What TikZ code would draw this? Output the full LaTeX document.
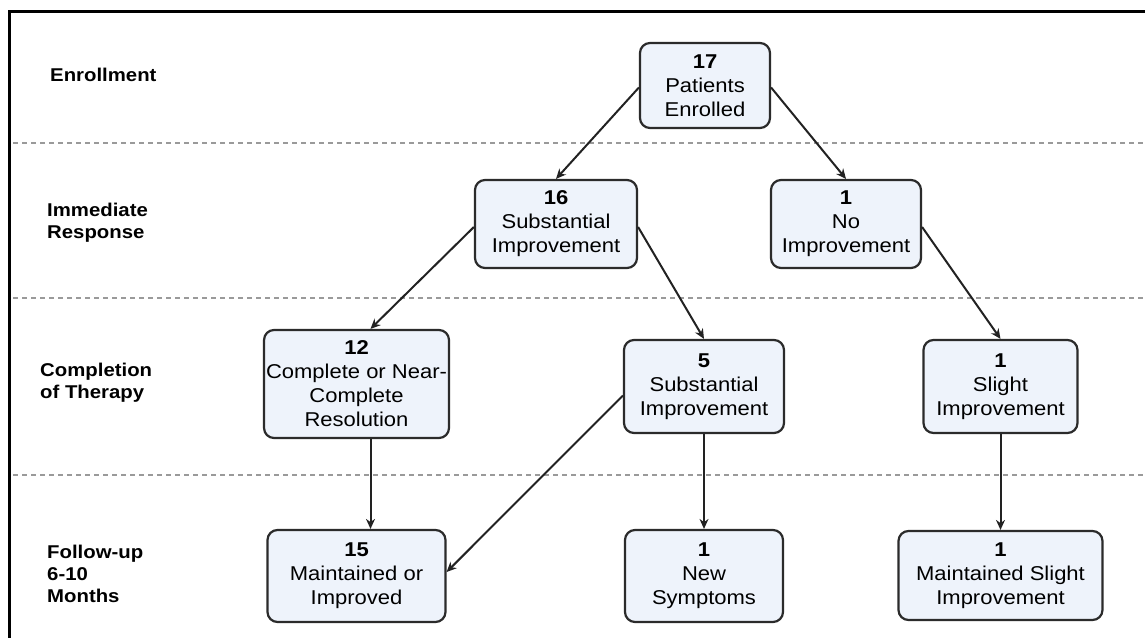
\documentclass[tikz,border=0pt]{standalone}
\usepackage{fontspec}
\setmainfont{Liberation Sans}[FakeStretch=1.1]
\usetikzlibrary{calc,arrows.meta}
\definecolor{boxfill}{HTML}{EEF3FB}
\definecolor{boxline}{HTML}{2B2B2B}
\definecolor{arrowcol}{HTML}{222222}
\definecolor{dashcol}{HTML}{9A9A9A}
\tikzset{
  box/.style={draw=boxline, fill=boxfill, line width=2.2pt, rounded corners=10pt,
    align=center, inner sep=2pt, font=\fontsize{20}{24}\selectfont},
  stagelabel/.style={anchor=west, align=left, inner sep=0pt,
    font=\fontsize{18.5}{22}\selectfont\bfseries},
  arr/.style={draw=arrowcol, line width=2pt, -{Stealth[length=10pt,width=9pt]}},
  sep/.style={draw=dashcol, line width=1.6pt, dash pattern=on 5pt off 4pt}
}
\begin{document}
\begin{tikzpicture}[x=1pt,y=-1pt]
\useasboundingbox (0,0) rectangle (1145,637);
% frame
\draw[line width=2.2pt] (9.5,660) -- (9.5,11.5) -- (1160,11.5);
% separators
\draw[sep] (13,143) -- (1145,143);
\draw[sep] (13,298) -- (1145,298);
\draw[sep] (13,475) -- (1145,475);
% stage labels
\node[stagelabel] (L1) at (50,75) {Enrollment};
\node[stagelabel] (L2) at (47,223) {Immediate\\Response};
\node[stagelabel] (L3) at (40,382.5) {Completion\\of Therapy};
\node[stagelabel] (L4) at (47,573.5) {Follow-up\\6-10\\Months};
% boxes
\node[box, minimum width=130pt, minimum height=85pt] (A) at (705,85.5) {\textbf{17}\\Patients\\Enrolled};
\node[box, minimum width=162pt, minimum height=88pt] (B) at (556,224) {\textbf{16}\\Substantial\\Improvement};
\node[box, minimum width=150pt, minimum height=88pt] (C) at (846,224) {\textbf{1}\\No\\Improvement};
\node[box, minimum width=178pt, minimum height=108pt] (D) at (356.5,384) {\textbf{12}\\Complete or Near-\\Complete\\Resolution};
\node[box, minimum width=160pt, minimum height=93pt] (E) at (704,386.5) {\textbf{5}\\Substantial\\Improvement};
\node[box, minimum width=154pt, minimum height=93pt] (F) at (1000.5,386.5) {\textbf{1}\\Slight\\Improvement};
\node[box, minimum width=178pt, minimum height=92pt] (G) at (356.5,576) {\textbf{15}\\Maintained or\\Improved};
\node[box, minimum width=158pt, minimum height=92pt] (H) at (704,576) {\textbf{1}\\New\\Symptoms};
\node[box, minimum width=204pt, minimum height=89pt] (I) at (1000.5,575.5) {\textbf{1}\\Maintained Slight\\Improvement};
% connectors
\draw[arr] ($(A.west)+(0,2)$) -- (B.north);
\draw[arr] ($(A.east)+(0,2)$) -- (C.north);
\draw[arr] ($(B.west)+(0,3)$) -- ($(D.north)+(14,0)$);
\draw[arr] ($(B.east)+(0,3)$) -- (E.north);
\draw[arr] ($(C.east)+(0,3)$) -- (F.north);
\draw[arr] ($(D.south)+(14,0)$) -- ($(G.north)+(14,0)$);
\draw[arr] ($(E.west)+(0,9)$) -- ($(G.east)+(0,-4)$);
\draw[arr] (E.south) -- (H.north);
\draw[arr] (F.south) -- (I.north);
\end{tikzpicture}
\end{document}
